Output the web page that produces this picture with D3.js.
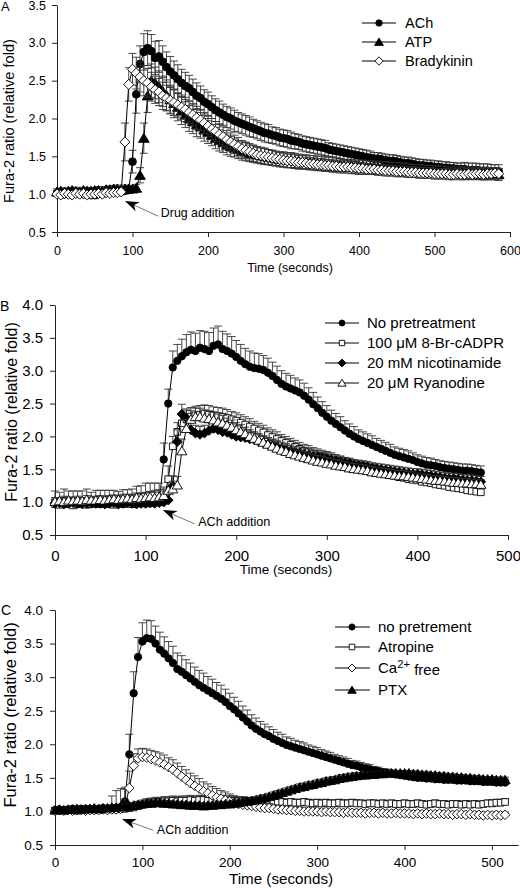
<!DOCTYPE html>
<html><head><meta charset="utf-8">
<script src="https://cdn.jsdelivr.net/npm/d3@7"></script>
<style>
body{margin:0;background:#fff}
svg{display:block}
text{font-family:"Liberation Sans",Arial,Helvetica,sans-serif;fill:#000}
</style>
</head><body>
<svg id="chart" width="520" height="888"></svg>
<script>
// ---------------- DATA ----------------
// Panel A: sampling every 5 s from 0 to 585 s
const timeA = d3.range(0, 586, 5);
const xTicksA = [0, 100, 200, 300, 400, 500, 600];
const yTicksA = [0.5, 1.0, 1.5, 2.0, 2.5, 3.0, 3.5];
const legendA = ["ACh", "ATP", "Bradykinin"];
const aACh = [
1.01,1.02,1.00,1.02,1.03,1.01,1.02,1.00,1.01,0.99,
0.99,1.01,1.02,1.02,1.03,1.04,1.04,1.05,1.05,1.06,
1.43,2.32,2.72,2.88,2.93,2.89,2.80,2.82,2.75,2.68,
2.62,2.57,2.52,2.47,2.43,2.40,2.35,2.30,2.27,2.22,
2.19,2.15,2.11,2.08,2.05,2.02,2.00,1.97,1.95,1.93,
1.91,1.89,1.87,1.85,1.83,1.81,1.80,1.78,1.77,1.75,
1.74,1.73,1.71,1.70,1.69,1.67,1.66,1.65,1.64,1.63,
1.62,1.61,1.59,1.58,1.57,1.56,1.55,1.54,1.53,1.52,
1.51,1.50,1.49,1.48,1.47,1.47,1.46,1.45,1.44,1.44,
1.43,1.42,1.41,1.41,1.40,1.39,1.38,1.38,1.37,1.37,
1.36,1.36,1.35,1.35,1.34,1.34,1.33,1.33,1.33,1.32,
1.32,1.32,1.31,1.31,1.31,1.30,1.30,1.30];
const aAChErr = [
.04,.05,.04,.05,.05,.04,.05,.04,.05,.04,
.05,.04,.05,.05,.05,.04,.05,.05,.05,.05,
.15,.25,.24,.24,.23,.22,.22,.21,.21,.20,
.20,.19,.19,.18,.18,.17,.17,.17,.16,.16,
.16,.15,.15,.15,.14,.14,.14,.14,.13,.13,
.13,.13,.12,.12,.12,.12,.12,.11,.11,.11,
.11,.11,.11,.10,.10,.10,.10,.10,.10,.10,
.10,.10,.09,.09,.09,.09,.09,.09,.09,.09,
.09,.09,.09,.09,.08,.08,.08,.08,.08,.08,
.08,.08,.08,.08,.08,.08,.08,.08,.08,.08,
.08,.08,.08,.08,.08,.08,.08,.08,.09,.09,
.09,.09,.09,.09,.09,.09,.09,.09];
const aATP = [
1.03,1.04,1.03,1.04,1.05,1.04,1.03,1.05,1.04,1.04,
1.05,1.05,1.04,1.06,1.06,1.07,1.07,1.06,1.07,1.07,
1.07,1.08,1.25,1.74,2.30,2.50,2.47,2.42,2.36,2.31,
2.25,2.20,2.15,2.10,2.05,2.00,1.96,1.92,1.89,1.85,
1.82,1.78,1.74,1.71,1.68,1.65,1.63,1.61,1.59,1.57,
1.56,1.54,1.53,1.52,1.51,1.50,1.49,1.48,1.47,1.46,
1.46,1.45,1.45,1.44,1.44,1.43,1.43,1.42,1.42,1.41,
1.41,1.40,1.40,1.40,1.39,1.39,1.38,1.38,1.38,1.37,
1.37,1.37,1.36,1.36,1.36,1.35,1.35,1.35,1.34,1.34,
1.34,1.33,1.33,1.33,1.32,1.32,1.32,1.31,1.31,1.31,
1.30,1.30,1.30,1.29,1.29,1.29,1.29,1.28,1.28,1.28,
1.28,1.28,1.27,1.27,1.27,1.27,1.27,1.26];
const aATPErr = [
.04,.04,.05,.04,.04,.05,.04,.04,.05,.04,
.04,.05,.04,.04,.05,.04,.05,.04,.05,.04,
.04,.05,.10,.20,.22,.22,.21,.21,.20,.20,
.19,.19,.18,.18,.17,.17,.16,.16,.15,.15,
.15,.14,.14,.14,.13,.13,.13,.12,.12,.12,
.12,.11,.11,.11,.11,.11,.10,.10,.10,.10,
.10,.10,.10,.10,.09,.09,.09,.09,.09,.09,
.09,.09,.09,.09,.09,.08,.08,.08,.08,.08,
.08,.08,.08,.08,.08,.08,.08,.08,.08,.08,
.08,.08,.08,.07,.07,.07,.07,.07,.07,.07,
.07,.07,.07,.07,.07,.07,.07,.07,.08,.08,
.08,.08,.08,.08,.08,.08,.08,.08];
const aBrady = [
1.00,0.99,1.01,1.00,0.99,1.01,1.00,1.01,0.99,1.00,
1.00,1.01,1.00,1.02,1.01,1.02,1.02,1.03,1.69,2.45,
2.65,2.60,2.55,2.50,2.47,2.42,2.38,2.35,2.30,2.27,
2.24,2.21,2.18,2.15,2.12,2.08,2.05,2.01,1.98,1.94,
1.90,1.86,1.83,1.79,1.76,1.72,1.69,1.66,1.63,1.60,
1.58,1.56,1.54,1.52,1.51,1.50,1.49,1.48,1.47,1.46,
1.45,1.44,1.44,1.43,1.42,1.42,1.41,1.40,1.40,1.39,
1.39,1.38,1.38,1.37,1.37,1.36,1.36,1.36,1.35,1.35,
1.34,1.34,1.33,1.33,1.33,1.32,1.32,1.31,1.31,1.31,
1.30,1.30,1.30,1.29,1.29,1.29,1.28,1.28,1.28,1.28,
1.27,1.27,1.27,1.27,1.26,1.26,1.27,1.26,1.26,1.27,
1.26,1.27,1.27,1.26,1.27,1.27,1.28,1.27];
const aBradyErr = [
.03,.04,.03,.04,.03,.04,.03,.04,.04,.03,
.04,.03,.04,.04,.03,.04,.04,.04,.25,.22,
.21,.21,.20,.20,.19,.19,.18,.18,.18,.17,
.17,.17,.16,.16,.16,.15,.15,.15,.14,.14,
.14,.14,.13,.13,.13,.12,.12,.12,.12,.11,
.11,.11,.11,.10,.10,.10,.10,.10,.09,.09,
.09,.09,.09,.09,.09,.09,.08,.08,.08,.08,
.08,.08,.08,.08,.08,.08,.08,.08,.08,.08,
.08,.07,.07,.07,.07,.07,.07,.07,.07,.07,
.07,.07,.07,.07,.07,.07,.07,.07,.07,.07,
.07,.07,.07,.07,.07,.07,.07,.07,.07,.07,
.07,.07,.07,.07,.07,.07,.07,.07];

// Panel B: sampling every 5 s from 0 to 470 s
const timeB = d3.range(0, 471, 5);
const xTicksB = [0, 100, 200, 300, 400, 500];
const yTicksB = [0.5, 1.0, 1.5, 2.0, 2.5, 3.0, 3.5, 4.0];
const legendB = ["No pretreatment", "100 \u03bcM 8-Br-cADPR", "20 mM nicotinamide", "20 \u03bcM Ryanodine"];
const bNone = [
0.99,0.98,1.00,0.98,0.99,0.97,0.98,0.99,0.97,0.98,
0.99,0.98,0.97,0.98,0.97,0.98,0.99,0.98,0.99,0.98,
0.99,0.98,0.99,1.00,1.65,2.50,3.05,3.15,3.22,3.28,
3.32,3.30,3.35,3.33,3.30,3.38,3.40,3.33,3.30,3.26,
3.21,3.15,3.10,3.06,3.04,3.03,3.01,2.97,2.92,2.86,
2.80,2.76,2.73,2.70,2.67,2.62,2.56,2.49,2.43,2.36,
2.30,2.24,2.19,2.14,2.09,2.04,2.00,1.96,1.93,1.90,
1.87,1.84,1.81,1.78,1.75,1.72,1.70,1.68,1.66,1.64,
1.61,1.59,1.57,1.56,1.55,1.53,1.52,1.51,1.50,1.49,
1.48,1.48,1.47,1.46,1.45];
const bNoneErr = [
.18,.17,.20,.19,.18,.20,.19,.21,.18,.20,
.19,.20,.21,.20,.19,.21,.20,.22,.25,.27,
.30,.31,.30,.29,.25,.22,.25,.25,.26,.27,
.27,.27,.26,.27,.28,.27,.28,.27,.26,.26,
.25,.25,.24,.24,.23,.23,.22,.22,.21,.21,
.20,.20,.20,.19,.19,.19,.18,.18,.17,.17,
.17,.16,.16,.16,.15,.15,.15,.14,.14,.14,
.14,.13,.13,.13,.13,.12,.12,.12,.12,.11,
.11,.11,.11,.11,.10,.10,.10,.10,.10,.10,
.10,.10,.10,.10,.10];
const bBr = [
0.97,0.96,0.98,0.97,0.95,0.97,0.98,0.96,0.97,0.98,
0.97,0.98,0.97,0.96,0.98,0.97,0.98,0.97,0.98,0.99,
0.98,0.99,1.00,1.01,1.03,1.35,1.85,2.07,2.20,2.26,
2.30,2.32,2.33,2.35,2.33,2.32,2.31,2.30,2.28,2.26,
2.24,2.21,2.18,2.15,2.12,2.09,2.06,2.02,1.99,1.96,
1.93,1.90,1.87,1.84,1.81,1.78,1.76,1.73,1.71,1.69,
1.67,1.65,1.63,1.61,1.59,1.57,1.55,1.53,1.51,1.49,
1.48,1.46,1.44,1.43,1.41,1.40,1.38,1.37,1.35,1.34,
1.33,1.31,1.30,1.29,1.27,1.26,1.25,1.23,1.22,1.21,
1.20,1.18,1.17,1.16,1.15];
const bBrErr = [
.10,.09,.11,.10,.12,.10,.09,.11,.10,.10,
.11,.10,.12,.11,.10,.12,.11,.13,.14,.15,
.16,.17,.18,.18,.20,.20,.15,.14,.14,.14,
.14,.14,.14,.13,.14,.13,.13,.13,.13,.12,
.12,.12,.12,.12,.11,.11,.11,.11,.11,.11,
.10,.10,.10,.10,.10,.10,.10,.10,.10,.10,
.10,.10,.09,.09,.09,.09,.09,.09,.09,.09,
.09,.09,.09,.09,.09,.09,.08,.08,.08,.08,
.08,.08,.08,.08,.08,.08,.08,.08,.08,.08,
.08,.08,.08,.08,.08];
const bNic = [
0.98,0.99,0.97,0.98,0.99,0.98,0.97,0.98,0.99,0.98,
0.98,0.97,0.98,0.99,0.97,0.98,0.99,0.98,0.97,0.98,
0.98,0.99,0.98,0.99,1.00,1.03,1.25,1.92,2.34,2.28,
2.10,2.05,2.03,2.05,2.09,2.12,2.10,2.07,2.06,2.03,
2.00,1.99,1.98,1.96,1.95,1.92,1.90,1.88,1.86,1.84,
1.82,1.80,1.78,1.76,1.75,1.73,1.72,1.70,1.69,1.67,
1.66,1.64,1.63,1.61,1.60,1.59,1.57,1.56,1.55,1.54,
1.52,1.51,1.50,1.49,1.48,1.47,1.46,1.45,1.44,1.43,
1.43,1.42,1.41,1.40,1.39,1.38,1.37,1.36,1.36,1.35,
1.34,1.33,1.33,1.32,1.31];
const bNicErr = [
.06,.07,.06,.07,.06,.07,.06,.07,.06,.07,
.07,.06,.07,.07,.06,.07,.07,.08,.07,.08,
.08,.08,.09,.09,.10,.10,.15,.18,.15,.14,
.13,.12,.12,.12,.12,.12,.12,.11,.11,.11,
.11,.11,.10,.10,.10,.10,.10,.10,.10,.10,
.09,.09,.09,.09,.09,.09,.09,.09,.09,.09,
.09,.09,.09,.09,.08,.08,.08,.08,.08,.08,
.08,.08,.08,.08,.08,.08,.08,.08,.08,.08,
.08,.08,.08,.08,.08,.08,.08,.08,.08,.08,
.08,.08,.08,.08,.08];
const bRya = [
1.01,1.02,1.01,1.03,1.02,1.03,1.02,1.04,1.03,1.03,
1.04,1.03,1.04,1.05,1.04,1.05,1.06,1.05,1.07,1.06,
1.07,1.08,1.07,1.08,1.10,1.18,1.20,1.26,1.78,2.12,
2.26,2.30,2.30,2.28,2.27,2.25,2.22,2.20,2.17,2.14,
2.10,2.07,2.04,2.00,1.97,1.94,1.91,1.88,1.85,1.82,
1.79,1.77,1.74,1.72,1.70,1.68,1.66,1.64,1.62,1.61,
1.59,1.58,1.56,1.55,1.54,1.52,1.51,1.50,1.49,1.48,
1.46,1.45,1.44,1.43,1.42,1.41,1.40,1.40,1.39,1.38,
1.37,1.36,1.35,1.34,1.33,1.33,1.32,1.31,1.30,1.30,
1.29,1.29,1.28,1.28,1.27];
const bRyaErr = [
.05,.05,.06,.05,.05,.06,.05,.06,.05,.06,
.06,.05,.06,.06,.06,.07,.06,.07,.07,.07,
.08,.08,.08,.09,.10,.12,.12,.13,.18,.14,
.13,.13,.13,.12,.12,.12,.12,.12,.11,.11,
.11,.11,.10,.10,.10,.10,.10,.10,.10,.10,
.09,.09,.09,.09,.09,.09,.09,.09,.09,.09,
.09,.09,.09,.09,.08,.08,.08,.08,.08,.08,
.08,.08,.08,.08,.08,.08,.08,.08,.08,.08,
.07,.07,.07,.07,.07,.07,.07,.07,.07,.07,
.07,.07,.07,.07,.07];

// Panel C: sampling every 5 s from 0 to 515 s
const timeC = d3.range(0, 516, 5);
const xTicksC = [0, 100, 200, 300, 400, 500];
const yTicksC = [0.5, 1.0, 1.5, 2.0, 2.5, 3.0, 3.5, 4.0];
const legendC = ["no pretrement", "Atropine", "Ca2+ free", "PTX"];
const cNone = [
1.02,1.03,1.02,1.03,1.04,1.03,1.04,1.03,1.04,1.04,
1.04,1.05,1.04,1.05,1.05,1.06,1.15,1.85,2.76,3.30,
3.53,3.58,3.57,3.50,3.41,3.35,3.28,3.21,3.12,3.08,
3.03,2.98,2.93,2.88,2.84,2.80,2.76,2.72,2.68,2.63,
2.57,2.52,2.46,2.40,2.34,2.28,2.23,2.19,2.15,2.12,
2.08,2.05,2.02,1.99,1.97,1.95,1.93,1.91,1.89,1.87,
1.85,1.83,1.81,1.79,1.77,1.75,1.73,1.71,1.69,1.68,
1.66,1.64,1.63,1.61,1.60,1.58,1.57,1.56,1.55,1.54,
1.53,1.52,1.51,1.50,1.50,1.49,1.49,1.48,1.48,1.47,
1.47,1.47,1.46,1.46,1.46,1.45,1.45,1.45,1.44,1.44,
1.44,1.43,1.43,1.43];
const cNoneErr = [
.04,.03,.04,.04,.03,.04,.04,.03,.04,.04,
.04,.04,.05,.04,.05,.05,.18,.30,.32,.29,
.28,.27,.27,.26,.26,.25,.25,.25,.24,.24,
.23,.23,.22,.22,.22,.21,.21,.20,.20,.19,
.19,.18,.18,.17,.17,.16,.16,.15,.15,.14,
.14,.13,.13,.12,.12,.11,.11,.11,.10,.10,
.10,.09,.09,.09,.08,.08,.08,.08,.07,.07,
.07,.07,.07,.06,.06,.06,.06,.06,.06,.06,
.06,.06,.05,.05,.05,.05,.05,.05,.05,.05,
.05,.05,.05,.05,.05,.05,.05,.05,.05,.05,
.05,.05,.05,.05];
const cAtr = [
1.01,1.02,1.01,1.02,1.02,1.01,1.02,1.03,1.02,1.03,
1.02,1.03,1.03,1.04,1.03,1.04,1.04,1.05,1.06,1.08,
1.10,1.12,1.13,1.14,1.14,1.15,1.15,1.16,1.15,1.16,
1.16,1.17,1.16,1.17,1.17,1.16,1.17,1.16,1.17,1.16,
1.16,1.16,1.15,1.16,1.15,1.15,1.14,1.15,1.14,1.14,
1.14,1.13,1.14,1.13,1.14,1.13,1.13,1.14,1.13,1.12,
1.13,1.12,1.13,1.12,1.12,1.13,1.12,1.12,1.13,1.12,
1.12,1.11,1.12,1.12,1.11,1.12,1.11,1.12,1.11,1.11,
1.12,1.11,1.11,1.12,1.11,1.10,1.11,1.12,1.11,1.11,
1.10,1.11,1.11,1.10,1.11,1.10,1.11,1.10,1.11,1.12,
1.12,1.13,1.13,1.14];
const cAtrErr = [
.04,.04,.05,.04,.04,.05,.04,.05,.04,.05,
.05,.04,.05,.05,.05,.05,.06,.06,.07,.07,
.07,.07,.07,.07,.07,.07,.07,.07,.07,.07,
.07,.07,.07,.07,.07,.07,.07,.07,.07,.07,
.07,.07,.07,.06,.06,.06,.06,.06,.06,.06,
.05,.05,.05,.05,.05,.05,.05,.05,.05,.05,
.05,.05,.05,.05,.05,.05,.05,.05,.05,.05,
.05,.05,.05,.05,.05,.05,.05,.05,.05,.05,
.05,.05,.05,.05,.05,.05,.05,.05,.05,.05,
.05,.05,.05,.05,.05,.05,.05,.05,.05,.05,
.05,.05,.05,.05];
const cCa = [
1.01,1.02,1.01,1.02,1.01,1.02,1.02,1.01,1.02,1.02,
1.02,1.03,1.02,1.03,1.03,1.04,1.06,1.35,1.68,1.79,
1.81,1.80,1.78,1.76,1.73,1.70,1.66,1.62,1.57,1.52,
1.47,1.42,1.38,1.34,1.30,1.27,1.24,1.21,1.19,1.17,
1.15,1.13,1.11,1.10,1.09,1.08,1.07,1.06,1.05,1.05,
1.04,1.03,1.03,1.02,1.02,1.01,1.01,1.00,1.00,1.00,
1.00,0.99,1.00,0.99,0.99,0.99,0.98,0.99,0.98,0.98,
0.98,0.97,0.98,0.98,0.97,0.98,0.97,0.97,0.98,0.97,
0.97,0.97,0.96,0.97,0.96,0.97,0.96,0.96,0.97,0.96,
0.96,0.95,0.96,0.96,0.95,0.96,0.95,0.95,0.94,0.95,
0.94,0.95,0.94,0.95];
const cCaErr = [
.03,.03,.04,.03,.03,.04,.03,.04,.03,.04,
.03,.04,.04,.20,.28,.30,.30,.25,.18,.14,
.13,.13,.13,.13,.14,.14,.14,.15,.15,.15,
.15,.15,.15,.15,.14,.14,.13,.13,.12,.12,
.11,.10,.10,.09,.09,.08,.08,.07,.07,.07,
.06,.06,.06,.05,.05,.05,.05,.05,.05,.05,
.04,.04,.04,.04,.04,.04,.04,.04,.04,.04,
.04,.04,.04,.04,.04,.04,.04,.04,.04,.04,
.04,.04,.04,.04,.04,.04,.04,.04,.04,.04,
.04,.04,.04,.04,.04,.04,.04,.04,.04,.04,
.04,.04,.04,.04];
const cPtx = [
1.02,1.03,1.02,1.03,1.03,1.04,1.03,1.04,1.04,1.05,
1.04,1.05,1.05,1.06,1.06,1.07,1.07,1.08,1.09,1.10,
1.11,1.12,1.12,1.13,1.13,1.12,1.12,1.11,1.11,1.10,
1.10,1.09,1.09,1.09,1.08,1.09,1.09,1.10,1.10,1.11,
1.11,1.12,1.13,1.14,1.15,1.16,1.17,1.19,1.20,1.22,
1.24,1.26,1.28,1.30,1.32,1.34,1.36,1.37,1.39,1.40,
1.42,1.43,1.45,1.46,1.47,1.49,1.50,1.51,1.52,1.53,
1.54,1.54,1.55,1.55,1.56,1.56,1.57,1.57,1.57,1.57,
1.57,1.57,1.56,1.56,1.55,1.55,1.54,1.54,1.53,1.53,
1.52,1.52,1.51,1.51,1.50,1.50,1.49,1.49,1.48,1.48,
1.48,1.47,1.47,1.47];
const cPtxErr = [
.03,.03,.03,.03,.03,.03,.03,.03,.03,.03,
.03,.03,.03,.03,.03,.03,.04,.04,.04,.04,
.04,.04,.04,.04,.04,.04,.04,.04,.04,.04,
.04,.04,.04,.04,.04,.04,.04,.04,.04,.04,
.04,.04,.04,.04,.04,.04,.05,.05,.05,.05,
.05,.05,.05,.05,.05,.05,.05,.05,.05,.05,
.05,.05,.05,.05,.05,.05,.05,.05,.05,.05,
.04,.04,.04,.04,.04,.04,.04,.04,.04,.04,
.04,.04,.04,.04,.04,.04,.04,.04,.04,.04,
.04,.04,.04,.04,.04,.04,.04,.04,.04,.04,
.04,.04,.04,.04];

// ---------------- DRAWING ----------------
const svg = d3.select("#chart");

function markerPath(shape, r) {
  if (shape === "circle") return d3.symbol(d3.symbolCircle, Math.PI * r * r)();
  if (shape === "square") { const s = r * 0.9; return `M${-s},${-s}H${s}V${s}H${-s}Z`; }
  if (shape === "diamond") { const d = r * 1.3; return `M0,${-d}L${d},0L0,${d}L${-d},0Z`; }
  if (shape === "triangle") { const h = r * 1.25; return `M0,${-h}L${h * 1.1},${h * 0.85}L${-h * 1.1},${h * 0.85}Z`; }
}

const panels = [
  {
    label: "A", labelX: 1, labelY: 11, labelSize: 13,
    time: timeA, xDomain: [0, 600], xRange: [57, 510], yDomain: [0.5, 3.5], yRange: [232, 5],
    xTicks: xTicksA, yTicks: yTicksA, tickSize: 12.5, xPad: 9, yPad: 6,
    xTitleX: 290, xTitleY: 272, xTitleSize: 12.5,
    yTitleX: 14, yTitleY: 121, yTitleSize: 14.6,
    errMode: "both", markerR: 3.9, legendR: 3.2,
    series: [
      {name: legendA[0], v: aACh, e: aAChErr, shape: "circle", filled: true},
      {name: legendA[1], v: aATP, e: aATPErr, shape: "triangle", filled: true},
      {name: legendA[2], v: aBrady, e: aBradyErr, shape: "diamond", filled: false}
    ],
    legend: {x1: 362, x2: 396, mx: 379, tx: 405, ys: [23, 42, 61], size: 14.5},
    note: {text: "Drug addition", tip: [90, 0.91], end: [134, 0.71], tpos: [137.5, 0.70], size: 12.4}
  },
  {
    label: "B", labelX: 0, labelY: 311, labelSize: 14,
    time: timeB, xDomain: [0, 500], xRange: [55, 508], yDomain: [0.5, 4.0], yRange: [535, 305],
    xTicks: xTicksB, yTicks: yTicksB, tickSize: 15, xPad: 10, yPad: 7,
    xTitleX: 286, xTitleY: 574, xTitleSize: 13.5,
    yTitleX: 17, yTitleY: 412, yTitleSize: 16,
    errMode: "up", markerR: 3.7, legendR: 3,
    series: [
      {name: legendB[0], v: bNone, e: bNoneErr, shape: "circle", filled: true},
      {name: legendB[1], v: bBr, e: bBrErr, shape: "square", filled: false},
      {name: legendB[2], v: bNic, e: bNicErr, shape: "diamond", filled: true},
      {name: legendB[3], v: bRya, e: bRyaErr, shape: "triangle", filled: false}
    ],
    legend: {x1: 325, x2: 359, mx: 342, tx: 367, ys: [323, 343, 363, 383], size: 15},
    note: {text: "ACh addition", tip: [119, 0.88], end: [154, 0.67], tpos: [158, 0.64], size: 12.6}
  },
  {
    label: "C", labelX: 1, labelY: 615, labelSize: 14,
    time: timeC, xDomain: [0, 530], xRange: [55, 518.2], yDomain: [0.5, 4.0], yRange: [845, 610],
    xTicks: xTicksC, yTicks: yTicksC, tickSize: 13.5, xPad: 7, yPad: 7,
    xTitleX: 281, xTitleY: 884, xTitleSize: 15.2,
    yTitleX: 16, yTitleY: 715, yTitleSize: 16.5,
    errMode: "up", markerR: 3.7, legendR: 3.1,
    series: [
      {name: legendC[0], v: cNone, e: cNoneErr, shape: "circle", filled: true},
      {name: legendC[1], v: cAtr, e: cAtrErr, shape: "square", filled: false},
      {name: legendC[2], v: cCa, e: cCaErr, shape: "diamond", filled: false},
      {name: legendC[3], v: cPtx, e: cPtxErr, shape: "triangle", filled: true}
    ],
    legend: {x1: 335, x2: 370, mx: 352, tx: 378, ys: [627, 647, 668, 690], size: 15},
    note: {text: "ACh addition", tip: [76.7, 0.887], end: [112, 0.72], tpos: [116.5, 0.664], size: 12.5}
  }
];

panels.forEach(p => {
  const g = svg.append("g");
  const x = d3.scaleLinear().domain(p.xDomain).range(p.xRange);
  const y = d3.scaleLinear().domain(p.yDomain).range(p.yRange);

  // axes
  const xAxis = g.append("g")
    .attr("transform", `translate(0,${y(p.yDomain[0])})`)
    .call(d3.axisBottom(x).tickValues(p.xTicks).tickFormat(d3.format("d"))
      .tickSize(5).tickSizeOuter(0).tickPadding(p.xPad));
  const yAxis = g.append("g")
    .attr("transform", `translate(${x(0)},0)`)
    .call(d3.axisLeft(y).tickValues(p.yTicks).tickFormat(d3.format(".1f"))
      .tickSize(5).tickSizeOuter(0).tickPadding(p.yPad));
  [xAxis, yAxis].forEach(a => {
    a.attr("font-family", null).attr("font-size", null);
    a.selectAll("path,line").attr("stroke", "#222").attr("stroke-width", 1);
    a.selectAll("text").style("font-size", p.tickSize + "px").attr("fill", "#000");
  });

  // titles
  g.append("text").attr("x", p.xTitleX).attr("y", p.xTitleY).attr("text-anchor", "middle")
    .style("font-size", p.xTitleSize + "px").text("Time (seconds)");
  g.append("text").attr("transform", `translate(${p.yTitleX},${p.yTitleY}) rotate(-90)`)
    .attr("text-anchor", "middle").style("font-size", p.yTitleSize + "px")
    .text("Fura-2 ratio (relative fold)");
  g.append("text").attr("x", p.labelX).attr("y", p.labelY).style("font-size", p.labelSize + "px").text(p.label);

  // series
  p.series.forEach(s => {
    const pts = s.v.map((v, i) => ({t: p.time[i], v, e: s.e[i]}));
    const path = d3.path();
    pts.forEach(d => {
      const px = x(d.t), top = y(d.v + d.e);
      const bot = p.errMode === "both" ? y(d.v - d.e) : y(d.v);
      path.moveTo(px, bot); path.lineTo(px, top);
      path.moveTo(px - 4, top); path.lineTo(px + 4, top);
      if (p.errMode === "both") { path.moveTo(px - 4, bot); path.lineTo(px + 4, bot); }
    });
    g.append("path").attr("d", path.toString()).attr("fill", "none")
      .attr("stroke", "#333").attr("stroke-width", 0.9);
    g.append("path").datum(pts)
      .attr("d", d3.line().x(d => x(d.t)).y(d => y(d.v)))
      .attr("fill", "none").attr("stroke", "#000").attr("stroke-width", 1);
    g.append("g").selectAll("path").data(pts).join("path")
      .attr("transform", d => `translate(${x(d.t)},${y(d.v)})`)
      .attr("d", markerPath(s.shape, p.markerR))
      .attr("fill", s.filled ? "#000" : "#fff")
      .attr("stroke", "#000").attr("stroke-width", 0.9);
  });

  // legend
  const L = p.legend;
  p.series.forEach((s, i) => {
    const yy = L.ys[i];
    g.append("line").attr("x1", L.x1).attr("x2", L.x2).attr("y1", yy).attr("y2", yy)
      .attr("stroke", "#000").attr("stroke-width", 1);
    g.append("path").attr("transform", `translate(${L.mx},${yy})`)
      .attr("d", markerPath(s.shape, p.legendR))
      .attr("fill", s.filled ? "#000" : "#fff").attr("stroke", "#000").attr("stroke-width", 0.9);
    const t = g.append("text").attr("x", L.tx).attr("y", yy).attr("dy", "0.36em")
      .style("font-size", L.size + "px");
    const m = s.name.match(/^Ca(2\+)(.*)$/);
    if (m) {
      t.append("tspan").text("Ca");
      t.append("tspan").attr("dy", "-0.45em").style("font-size", (L.size * 0.75) + "px").text(m[1]);
      t.append("tspan").attr("dy", "0.45em").text(m[2]);
    } else t.text(s.name);
  });

  // annotation arrow
  const n = p.note;
  const tx = x(n.tip[0]), ty = y(n.tip[1]), ex = x(n.end[0]), ey = y(n.end[1]);
  const dx = ex - tx, dy = ey - ty, len = Math.hypot(dx, dy), ux = dx / len, uy = dy / len;
  const hl = 14, hw = 5, notch = 10;
  g.append("line").attr("x1", tx + ux * notch).attr("y1", ty + uy * notch).attr("x2", ex).attr("y2", ey)
    .attr("stroke", "#777").attr("stroke-width", 1);
  g.append("path").attr("d",
    `M${tx},${ty}L${tx + ux * hl - uy * hw},${ty + uy * hl + ux * hw}` +
    `L${tx + ux * notch},${ty + uy * notch}L${tx + ux * hl + uy * hw},${ty + uy * hl - ux * hw}Z`)
    .attr("fill", "#000");
  g.append("text").attr("x", x(n.tpos[0])).attr("y", y(n.tpos[1]))
    .style("font-size", n.size + "px").text(n.text);
});
</script>
</body></html>
